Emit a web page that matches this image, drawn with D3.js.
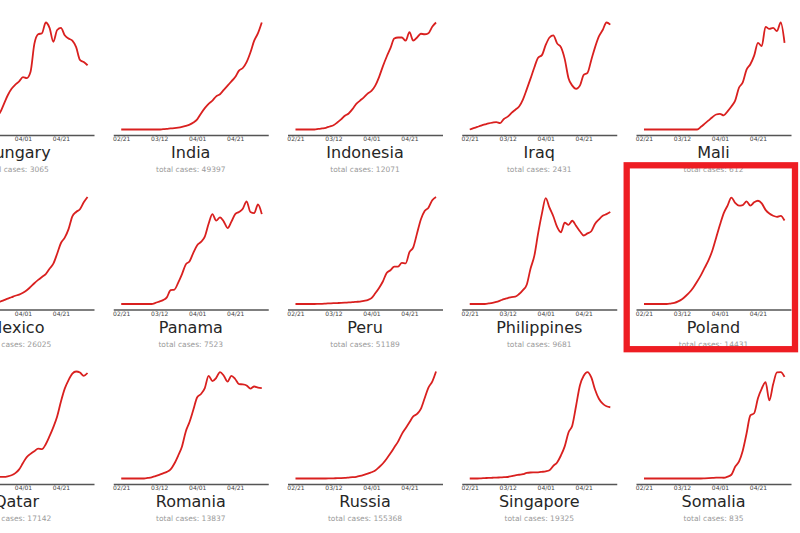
<!DOCTYPE html>
<html>
<head>
<meta charset="utf-8">
<script src="https://cdn.jsdelivr.net/npm/d3@7"></script>
<style>
  html, body { margin: 0; padding: 0; background: #ffffff; }
  svg { display: block; }
  text { font-family: "DejaVu Sans", sans-serif; }
</style>
</head>
<body>
<svg id="chart" width="800" height="533"></svg>
<script>
// ---- data (values normalised to each country's peak) ----
const days = [0,2,4,6,8,10,12,14,16,18,20,22,24,26,28,30,32,34,36,38,40,42,44,46,48,50,52,54,56,58,60,62,64,66,68,70,72,74];
const tickDays = [0, 20, 40, 60];
const tickLabels = ["02/21", "03/12", "04/01", "04/21"];

const countries = ["Hungary","India","Indonesia","Iraq","Mali",
                   "Mexico","Panama","Peru","Philippines","Poland",
                   "Qatar","Romania","Russia","Singapore","Somalia"];
const totalCases = [3065, 49397, 12071, 2431, 612,
                    26025, 7523, 51189, 9681, 14431,
                    17142, 13837, 155368, 19325, 835];
const highlighted = "Poland";

const hungary     = [0,0,0,0,0,0,0,1,2,3,4,6,8,12,16,24,32,38,42,45,49,48,54,80,89,90,100,95,82,93,95,88,85,83,77,65,63,60];
const india       = [0,0,0,0,0,0,0,0,0,0,0,0.3,0.6,1,1.3,1.8,2.5,3.4,4.5,6.5,9.5,15,20,24,27,31,33,37,41,45,49,55,57.5,63,72,83,90,100];
const indonesia   = [0,0,0,0,0,0,0.5,1,1.6,2.8,4,6.5,9.5,12.8,15,19,24,27,30,33.5,36,41,49,59,68,76,85,86,86,83,91,83,86,89.5,89,90,96,100];
const iraq        = [0,1.2,2.4,3.6,4.7,5.7,6.4,6.9,6,9.8,12,15.5,18.5,21.5,28,37.5,47.5,58,67,69.5,79,86,88,80.5,77,66,48,41,38,41,51,53,65,77,87,93,100,98];
const mali        = [0,0,0,0,0,0,0,0,0,0,0,0,0,0,0,2.5,5.5,8.5,11.5,14,14.6,13.2,17,21.5,27,39,44,56,61,69,81,78,96,94,95,92,100,81];
const mexico      = [0,0,0,0,0,0,0,0.2,0.3,0.5,0.7,1,1.4,1.8,2.3,3.6,5,6.3,7.7,8.8,10.5,12.8,16,19.4,22.5,25.3,28,33,37.7,47,57,62,70,82,86,88.6,95,100];
const panama      = [0,0,0,0,0,0,0,0,0,1,2.3,3.6,6.2,13,13.5,20,28,37,40,48,55,58,63,75,84,78,81,77,71,77,84,86,89,96,86,85,93,84];
const peru        = [0,0,0,0,0,0,0.1,0.2,0.4,0.6,0.8,0.9,1,1.2,1.5,1.7,2,2.3,3,3.7,5.5,10,15,21,29,31.5,35,35,38.5,38,48.4,53,66,79,87,90,97,100];
const philippines = [0,0,0,0,0,0.5,1.1,2,3.2,4.5,5.5,6.5,6.8,9.3,13,18,33,45,66,84.5,99,90,82,72,67,76,74,77.8,73,68,64,66,68,75,79,82.4,84,86];
const poland      = [0,0,0,0,0,0,0,0.4,1,2.4,4.5,7.5,11,15.5,21,27,34,41,50,62,74,85,92,99.5,94.5,92,92.5,96,92,95,96.5,94,88,84.5,82.5,81.5,82.4,78];
const qatar       = [0,0,0,0,0,0,0.2,0.4,0.6,0.8,1,1.2,1.3,1.4,1.5,1.5,2,3,5,8.5,14.5,20,23,25.5,28,27.5,32,39.5,48,58,72,84,92,98,100,99,96,98.6];
const romania     = [0,0,0,0,0,0,0,0.5,1.1,2.2,3.4,4.8,6.2,8.5,14,21.5,30,44,53,64.5,76,79,84.5,96,91,94,99.5,96,90.5,96,93,88.2,88,87,84,86,85,84.5];
const russia      = [0,0,0,0,0,0,0,0,0,0.1,0.2,0.3,0.4,0.6,0.9,1.2,1.6,2.4,3.4,4.5,5.8,7.5,10.5,14,18.5,23.5,29,34.5,41.5,47,52.5,58,60.3,65,75,85,90.5,100];
const singapore   = [0,0,0,0.2,0.4,0.6,0.7,0.8,1,1.2,1.4,2.2,3,3.5,4,5.2,5.6,5.7,5.8,6.2,6.7,7.7,11.8,15,21.5,30,43,49.6,68,87,96,99.5,94.5,83,74.5,70,67.5,66.6];
const somalia     = [0,0,0,0,0,0,0,0,0,0,0,0,0,0,0,0,0.2,0.4,0.6,0.8,0.9,0.7,1.7,3.5,11,15.8,26,42,59,61,75,84,90,73,88,99.2,99.5,95];

const seriesList = [hungary, india, indonesia, iraq, mali,
                    mexico, panama, peru, philippines, poland,
                    qatar, romania, russia, singapore, somalia];

// ---- layout ----
const svg = d3.select("#chart");
const colTick0 = c => -53 + c * 174.25;   // x of first tick in each column
const rowAxis  = r => 135 + r * 174.5;    // y of the baseline axis in each row

countries.forEach((name, i) => {
  const r = Math.floor(i / 5), c = i % 5;
  const x0 = colTick0(c), ay = rowAxis(r);

  const x = d3.scaleLinear().domain([-4.2, 77.4]).range([x0 - 8, x0 + 147]);
  const y = d3.scaleLinear().domain([0, 100]).range([ay - 5.5, ay - 112.5]);

  const g = svg.append("g");

  // line
  const data = days.map((d, k) => [d, seriesList[i][k]]);
  g.append("path")
    .datum(data)
    .attr("fill", "none")
    .attr("stroke", "#d9201f")
    .attr("stroke-width", 1.8)
    .attr("stroke-linejoin", "round")
    .attr("d", d3.line().curve(d3.curveMonotoneX).x(d => x(d[0])).y(d => y(d[1])));

  // axis
  const axis = d3.axisBottom(x)
    .tickValues(tickDays)
    .tickFormat((d, k) => tickLabels[k])
    .tickSize(0)
    .tickSizeOuter(0)
    .tickPadding(2);
  const ag = g.append("g").attr("transform", `translate(0,${ay})`).call(axis);
  ag.select(".domain").attr("stroke", "#555").attr("stroke-width", 1.4);
  ag.selectAll("text")
    .attr("fill", "#444")
    .style("font-size", "6px")
    .style("font-family", "'DejaVu Sans', sans-serif");

  // title and subtitle
  const cx = x0 + 69.5;
  g.append("text")
    .attr("x", cx).attr("y", ay + 23)
    .attr("text-anchor", "middle")
    .attr("fill", "#262626")
    .style("font-size", "16px")
    .text(name);
  g.append("text")
    .attr("x", cx).attr("y", ay + 37)
    .attr("text-anchor", "middle")
    .attr("fill", "#9a9a9a")
    .style("font-size", "7.5px")
    .text("total cases: " + totalCases[i]);
});

// highlight box around the selected country
const hi = countries.indexOf(highlighted);
const hr = Math.floor(hi / 5), hc = hi % 5;
svg.append("rect")
  .attr("x", colTick0(hc) - 17.3)
  .attr("y", rowAxis(hr) - 144.2)
  .attr("width", 168.3)
  .attr("height", 183.9)
  .attr("fill", "none")
  .attr("stroke", "#ee1d23")
  .attr("stroke-width", 6.3);
</script>
</body>
</html>
